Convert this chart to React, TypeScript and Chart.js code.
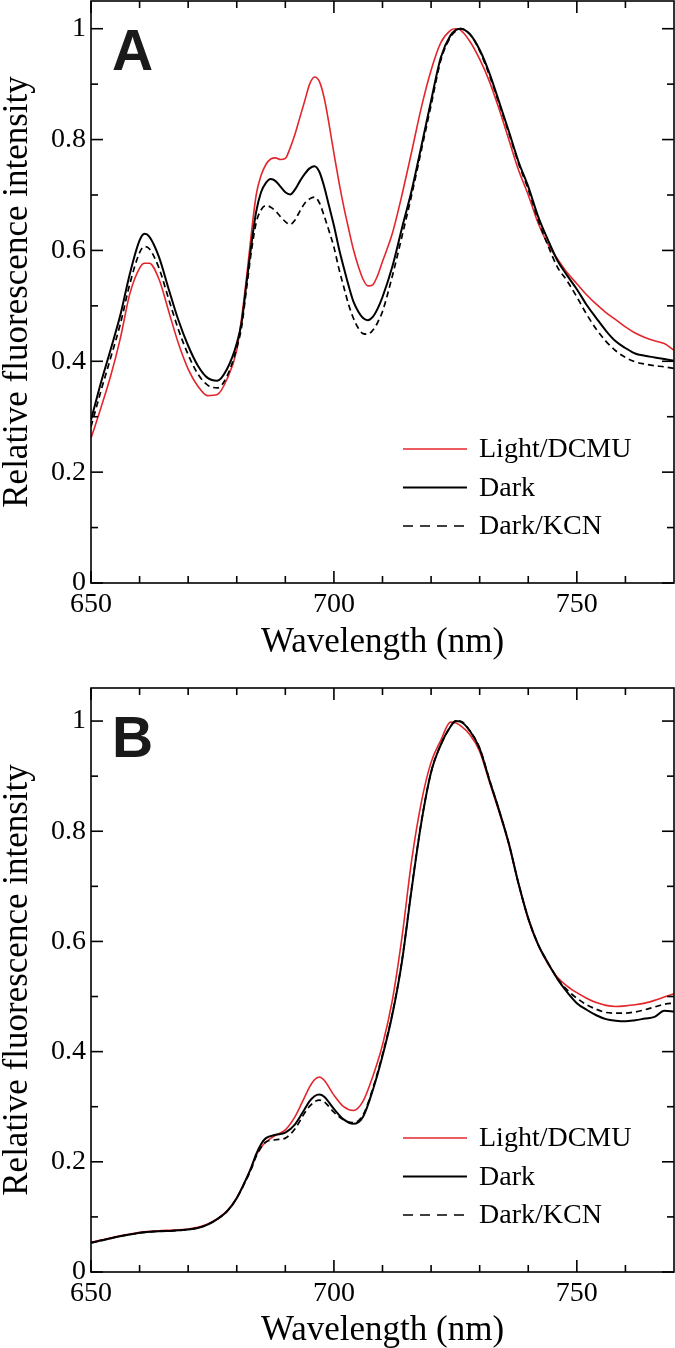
import React, { useEffect, useRef } from 'react';
import { Chart, registerables } from 'chart.js';

Chart.register(...registerables);

// ---------------- DATA ----------------
const SERIES_LABELS = ['Light/DCMU', 'Dark', 'Dark/KCN'];
const X_TITLE = 'Wavelength (nm)';
const Y_TITLE = 'Relative fluorescence intensity';
const X_TICKS = [650, 700, 750];
const X_MINOR_TICKS = [660, 670, 680, 690, 710, 720, 730, 740, 760];
const Y_TICKS = [0, 0.2, 0.4, 0.6, 0.8, 1];
const Y_MINOR_TICKS = [0.1, 0.3, 0.5, 0.7, 0.9];

const WL_A = [650,652,654,656,658,660,661,662,664,666,668,670,672,674,676,678,680,
  681,682,683,684,685,686,687,688,689,690,691,692,693,694,695,696,697,698,699,700,701,702,703,704,705,706,707,708,709,710,
  712,714,716,718,720,722,724,725,726,
  728,730,732,734,736,738,740,742,744,746,748,750,752,754,756,758,760,762,764,766,768,770];

const A_LIGHT = [.261,.315,.372,.440,.522,.568,.577,.577,.548,.490,.432,.386,.355,.338,.340,.368,.420,
  .478,.550,.630,.700,.735,.755,.765,.767,.764,.766,.785,.810,.840,.870,.900,.913,.905,.875,.828,.775,.725,.680,.640,.602,.572,.548,.536,.538,.555,.580,
  .630,.700,.778,.858,.925,.975,.997,1.0,.998,
  .977,.945,.905,.855,.800,.745,.700,.650,.612,.585,.560,.540,.520,.503,.488,.475,.462,.451,.443,.437,.432,.420];

const A_DARK = [.294,.360,.420,.482,.558,.618,.630,.625,.588,.530,.474,.428,.392,.370,.365,.386,.432,
  .470,.540,.610,.670,.705,.722,.729,.725,.715,.705,.701,.710,.725,.738,.748,.752,.742,.715,.680,.645,.605,.570,.537,.508,.490,.478,.474,.480,.495,.516,
  .570,.640,.708,.788,.870,.948,.988,.997,1.0,
  .990,.962,.920,.868,.815,.760,.715,.662,.620,.582,.555,.530,.502,.478,.455,.436,.424,.414,.410,.407,.404,.401];

const A_KCN = [.282,.345,.405,.466,.540,.596,.607,.603,.568,.512,.457,.412,.377,.357,.352,.373,.424,
  .462,.530,.598,.650,.673,.681,.678,.671,.661,.652,.647,.655,.671,.685,.693,.696,.686,.662,.635,.606,.568,.535,.503,.478,.460,.450,.449,.456,.470,.490,
  .553,.625,.700,.781,.862,.943,.985,.995,1.0,
  .990,.960,.916,.865,.812,.757,.710,.656,.610,.570,.545,.516,.485,.458,.436,.419,.407,.399,.395,.392,.390,.387];

const WL_B = [650,652,655,658,661,664,667,670,
  672,674,676,678,680,
  682,683,684,685,686,
  688,690,692,694,
  695,696,697,698,
  700,702,704,706,708,710,712,714,716,718,720,722,724,
  725,726,
  728,730,732,734,736,738,740,742,744,746,748,750,752,754,756,758,760,762,764,766,768,770];

const B_LIGHT = [.054,.058,.064,.069,.073,.075,.076,.078,
  .081,.087,.097,.111,.135,
  .170,.190,.212,.226,.236,
  .248,.258,.282,.318,
  .336,.349,.354,.348,
  .321,.300,.293,.310,.355,.412,.492,.607,.747,.853,.925,.965,.998,
  .997,.992,
  .975,.945,.890,.835,.776,.704,.640,.594,.560,.535,.519,.507,.497,.489,.484,.482,.483,.485,.488,.493,.499,.505];

const B_DARK = [.053,.057,.063,.068,.072,.074,.075,.077,
  .080,.086,.096,.110,.134,
  .170,.190,.214,.232,.243,
  .249,.253,.268,.296,
  .310,.319,.322,.318,
  .296,.277,.269,.282,.330,.392,.466,.563,.695,.816,.907,.957,.990,
  1.0,.999,
  .982,.950,.893,.838,.778,.705,.642,.595,.562,.532,.508,.488,.476,.466,.459,.456,.455,.457,.460,.463,.474,.473];

const B_KCN = [.053,.057,.063,.068,.072,.074,.075,.077,
  .080,.086,.096,.110,.134,
  .168,.187,.210,.226,.236,
  .240,.243,.260,.289,
  .301,.309,.312,.309,
  .290,.276,.271,.285,.333,.395,.468,.565,.697,.817,.907,.957,.990,
  .999,1.0,
  .982,.951,.894,.838,.778,.705,.642,.595,.562,.533,.512,.497,.485,.477,.471,.470,.470,.472,.476,.481,.486,.488];

// ---------------- STYLE ----------------
const SERIF = '"Liberation Serif", "Times New Roman", serif';
const SANS = '"Liberation Sans", Arial, sans-serif';
const RED = '#e3262b';
const BLACK = '#000000';
const CURVE_DASH = [6, 4];
const LEGEND_DASH = [10, 7];

const decorPlugin = {
  id: 'decor',
  afterDraw(chart: any, _args: any, opts: any) {
    const { ctx, chartArea: a, scales } = chart;
    const xs = scales.x;
    const ys = scales.y;
    ctx.save();
    ctx.strokeStyle = '#000';
    ctx.lineWidth = 1.6;
    ctx.setLineDash([]);
    ctx.strokeRect(a.left, a.top, a.right - a.left, a.bottom - a.top);
    const seg = (x1: number, y1: number, x2: number, y2: number) => {
      ctx.beginPath();
      ctx.moveTo(x1, y1);
      ctx.lineTo(x2, y2);
      ctx.stroke();
    };
    const MAJ = 12, MIN = 7;
    X_TICKS.forEach((v) => {
      const p = xs.getPixelForValue(v);
      seg(p, a.bottom, p, a.bottom - MAJ);
      seg(p, a.top, p, a.top + MAJ);
    });
    X_MINOR_TICKS.forEach((v) => {
      const p = xs.getPixelForValue(v);
      seg(p, a.bottom, p, a.bottom - MIN);
      seg(p, a.top, p, a.top + MIN);
    });
    Y_TICKS.forEach((v) => {
      const p = ys.getPixelForValue(v);
      seg(a.left, p, a.left + MAJ, p);
      seg(a.right, p, a.right - MAJ, p);
    });
    Y_MINOR_TICKS.forEach((v) => {
      const p = ys.getPixelForValue(v);
      seg(a.left, p, a.left + MIN, p);
      seg(a.right, p, a.right - MIN, p);
    });

    // panel letter
    ctx.fillStyle = '#1a1a1a';
    ctx.font = `bold 57px ${SANS}`;
    ctx.textAlign = 'left';
    ctx.textBaseline = 'alphabetic';
    ctx.fillText(opts.letter, a.left + 21, a.top + 69);

    // legend
    ctx.font = `28px ${SERIF}`;
    ctx.textBaseline = 'middle';
    chart.data.datasets.forEach((ds: any, i: number) => {
      const y = a.bottom - 134 + i * 38.5;
      ctx.strokeStyle = ds.borderColor;
      ctx.lineWidth = ds.borderWidth;
      ctx.setLineDash(ds.borderDash && ds.borderDash.length ? LEGEND_DASH : []);
      seg(a.left + 312, y, a.left + 376, y);
      ctx.setLineDash([]);
      ctx.fillStyle = '#000';
      ctx.fillText(ds.label, a.left + 388, y + 1);
    });
    ctx.restore();
  },
};

type PanelProps = {
  letter: string;
  wl: number[];
  light: number[];
  dark: number[];
  kcn: number[];
  yMax: number;
  height: number;
  topPad: number;
  xAxisH: number;
};

function Panel({ letter, wl, light, dark, kcn, yMax, height, topPad, xAxisH }: PanelProps) {
  const ref = useRef<HTMLCanvasElement>(null);
  useEffect(() => {
    if (!ref.current) return;
    const toPts = (arr: number[]) => wl.map((x, i) => ({ x, y: arr[i] }));
    const chart = new Chart(ref.current, {
      type: 'line',
      data: {
        datasets: [
          { label: SERIES_LABELS[0], data: toPts(light), borderColor: RED, borderWidth: 1.6, pointRadius: 0, order: 2, cubicInterpolationMode: 'monotone', fill: false },
          { label: SERIES_LABELS[1], data: toPts(dark), borderColor: BLACK, borderWidth: 2, pointRadius: 0, order: 0, cubicInterpolationMode: 'monotone', fill: false },
          { label: SERIES_LABELS[2], data: toPts(kcn), borderColor: BLACK, borderWidth: 1.7, borderDash: CURVE_DASH, pointRadius: 0, order: 1, cubicInterpolationMode: 'monotone', fill: false },
        ],
      } as any,
      options: {
        responsive: false,
        animation: false,
        layout: { padding: { left: 0, right: 1, top: topPad, bottom: 0 } },
        plugins: {
          legend: { display: false },
          tooltip: { enabled: false },
          decor: { letter },
        } as any,
        scales: {
          x: {
            type: 'linear',
            min: 650,
            max: 770,
            afterFit: (s: any) => { s.height = xAxisH; s.paddingLeft = 0; s.paddingRight = 0; },
            afterBuildTicks: (s: any) => { s.ticks = X_TICKS.map((v) => ({ value: v })); },
            grid: { display: false, drawTicks: false },
            border: { display: false },
            ticks: { color: '#000', font: { family: SERIF, size: 28 }, padding: 5, maxRotation: 0, autoSkip: false },
            title: { display: true, text: X_TITLE, color: '#000', font: { family: SERIF, size: 35, lineHeight: 1 }, padding: 0 },
          },
          y: {
            type: 'linear',
            min: 0,
            max: yMax,
            afterFit: (s: any) => { s.width = 91; s.paddingTop = 0; s.paddingBottom = 0; },
            afterBuildTicks: (s: any) => { s.ticks = Y_TICKS.map((v) => ({ value: v })); },
            grid: { display: false, drawTicks: false },
            border: { display: false },
            ticks: { color: '#000', font: { family: SERIF, size: 28 }, padding: 5, callback: (v: any) => String(Number(v)) },
            title: { display: true, text: Y_TITLE, color: '#000', font: { family: SERIF, size: 35, lineHeight: 1 }, padding: 0 },
          },
        },
      } as any,
      plugins: [decorPlugin],
    });
    return () => chart.destroy();
  }, []);
  return <canvas ref={ref} width={675} height={height} style={{ display: 'block', width: 675, height }} />;
}

export default function App() {
  return (
    <div style={{ position: 'absolute', left: 0, top: 0, width: 675, height: 1348, background: '#fff' }}>
      <Panel letter="A" wl={WL_A} light={A_LIGHT} dark={A_DARK} kcn={A_KCN} yMax={1.05} height={660} topPad={1} xAxisH={77} />
      <Panel letter="B" wl={WL_B} light={B_LIGHT} dark={B_DARK} kcn={B_KCN} yMax={1.06} height={688} topPad={28} xAxisH={76} />
    </div>
  );
}
